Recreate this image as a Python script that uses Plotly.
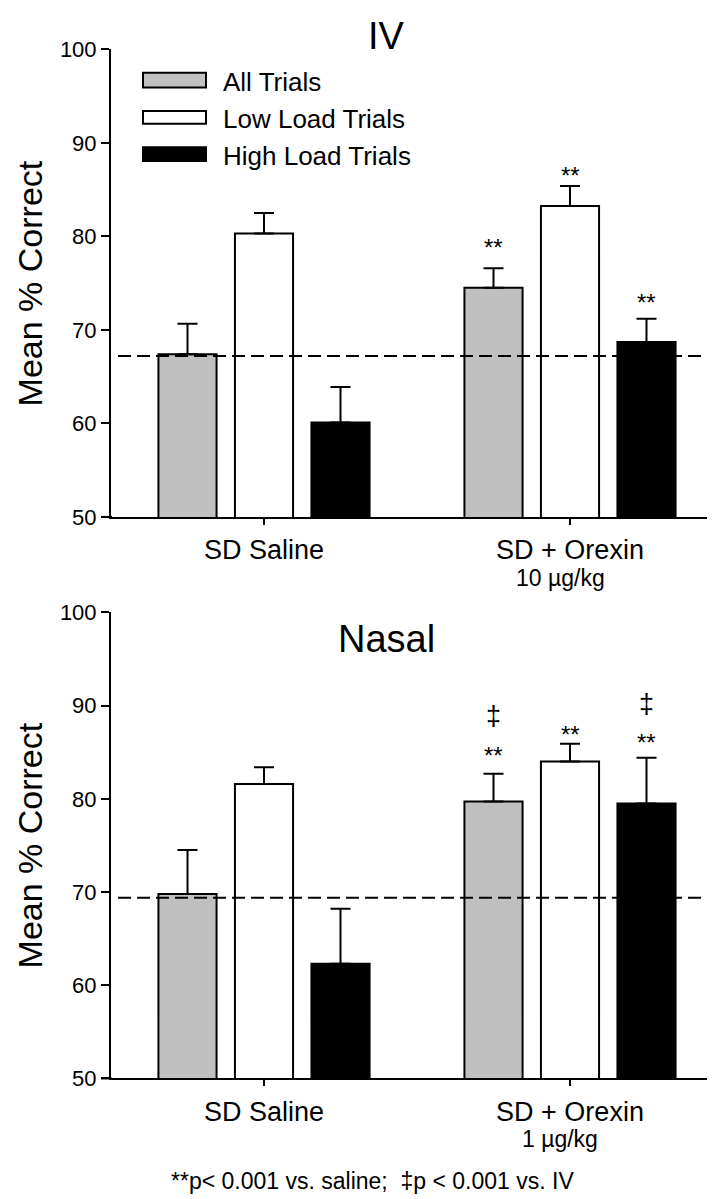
import plotly.graph_objects as go

# ---------------- data ----------------
groups = ["SD Saline", "SD + Orexin"]
iv_doses = ["", "10 µg/kg"]
nasal_doses = ["", "1 µg/kg"]
series = ["All Trials", "Low Load Trials", "High Load Trials"]

iv_all = [67.4, 74.5]
iv_all_err = [3.25, 2.1]
iv_low = [80.3, 83.25]
iv_low_err = [2.2, 2.15]
iv_high = [60.1, 68.7]
iv_high_err = [3.8, 2.5]
iv_baseline = 67.2

nasal_all = [69.8, 79.7]
nasal_all_err = [4.7, 3.0]
nasal_low = [81.6, 84.0]
nasal_low_err = [1.8, 1.9]
nasal_high = [62.3, 79.5]
nasal_high_err = [5.9, 4.9]
nasal_baseline = 69.4

iv_sig = [["", "**"], ["", "**"], ["", "**"]]
nasal_sig = [["", "**"], ["", "**"], ["", "**"]]
nasal_vs_iv = [["", "‡"], ["", ""], ["", "‡"]]

footnote = "**p< 0.001 vs. saline;  ‡p < 0.001 vs. IV"

# ---------------- styling / layout ----------------
W, H = 715, 1199
L = 103
PW = W - L
FONT = "Arial, Liberation Sans, Helvetica, sans-serif"
colors = ["#c0c0c0", "#ffffff", "#000000"]
BARGAP = 0.25
GROUPGAP = 0.24

# vertical placement (axis units) of the significance symbols, per series/group
iv_sig_pos = [[None, 79.4], [None, 87.1], [None, 73.5]]
nasal_sig_pos = [[None, 85.2], [None, 87.4], [None, 86.6]]
nasal_dag_pos = [[None, 88.9], [None, None], [None, 90.2]]


def px_x(px):
    return (px - L) / PW


def px_y(py):
    return 1 - py / H


fig = go.Figure()

panels = [
    dict(xa="x", ya="y", vals=[iv_all, iv_low, iv_high],
         errs=[iv_all_err, iv_low_err, iv_high_err], base=iv_baseline,
         sig=iv_sig, sigpos=iv_sig_pos, sig2=None, sig2pos=None, doses=iv_doses),
    dict(xa="x2", ya="y2", vals=[nasal_all, nasal_low, nasal_high],
         errs=[nasal_all_err, nasal_low_err, nasal_high_err], base=nasal_baseline,
         sig=nasal_sig, sigpos=nasal_sig_pos, sig2=nasal_vs_iv, sig2pos=nasal_dag_pos,
         doses=nasal_doses),
]

slot_px = PW / len(groups) * (1 - BARGAP) / len(series)
annotations = []
shapes = []

for p in panels:
    for i, name in enumerate(series):
        fig.add_trace(go.Bar(
            x=groups, y=p["vals"][i], name=name, xaxis=p["xa"], yaxis=p["ya"],
            marker=dict(color=colors[i], line=dict(color="black", width=2)),
            error_y=dict(type="data", array=p["errs"][i], arrayminus=[0] * len(groups),
                         symmetric=False, color="black", thickness=2, width=10),
            showlegend=False,
        ))
        for j, g in enumerate(groups):
            if p["sig"][i][j]:
                annotations.append(dict(
                    x=g, y=p["sigpos"][i][j], xref=p["xa"], yref=p["ya"],
                    text=p["sig"][i][j], showarrow=False, yanchor="middle",
                    xanchor="center", xshift=(i - 1) * slot_px, yshift=-5,
                    font=dict(size=24, color="black", family=FONT)))
            if p["sig2"] and p["sig2"][i][j]:
                annotations.append(dict(
                    x=g, y=p["sig2pos"][i][j], xref=p["xa"], yref=p["ya"],
                    text=p["sig2"][i][j], showarrow=False, yanchor="middle",
                    xanchor="center", xshift=(i - 1) * slot_px,
                    font=dict(size=27, color="black", family=FONT)))
    for j, g in enumerate(groups):
        if p["doses"][j]:
            annotations.append(dict(
                x=g, y=50, xref=p["xa"], yref=p["ya"], text=p["doses"][j],
                showarrow=False, yanchor="top", xanchor="center", xshift=-10, yshift=-46,
                font=dict(size=23, color="black", family=FONT)))
    shapes.append(dict(
        type="line", xref=p["xa"], yref=p["ya"], x0=-0.477, x1=1.46,
        y0=p["base"], y1=p["base"], layer="above",
        line=dict(color="black", width=2, dash="13px,6px")))

axis_common = dict(showline=True, linewidth=2, linecolor="black", mirror=False,
                   ticks="outside", tickwidth=2, tickcolor="black",
                   showgrid=False, zeroline=False)

top_dom = [px_y(507.5), px_y(30)]
bot_dom = [px_y(1081), px_y(605)]

fig.update_layout(
    width=W, height=H,
    margin=dict(l=L, r=0, t=0, b=0),
    paper_bgcolor="white", plot_bgcolor="white",
    barmode="group", bargap=BARGAP, bargroupgap=GROUPGAP,
    font=dict(family=FONT, color="black"),
    xaxis=dict(domain=[0, 1], anchor="y", type="category", range=[-0.5, 1.5],
               ticklen=6, tickfont=dict(size=27), ticklabelstandoff=2, **axis_common),
    yaxis=dict(domain=top_dom, anchor="x", range=[50, 100], dtick=10, tick0=50,
               ticklen=8, tickfont=dict(size=22), **axis_common),
    xaxis2=dict(domain=[0, 1], anchor="y2", type="category", range=[-0.5, 1.5],
                ticklen=6, tickfont=dict(size=27), ticklabelstandoff=2, **axis_common),
    yaxis2=dict(domain=bot_dom, anchor="x2", range=[50, 100], dtick=10, tick0=50,
                ticklen=8, tickfont=dict(size=22), **axis_common),
)

# x-axis line extension to the left of the y axis (as in the original)
for py in (507.5, 1081):
    shapes.append(dict(type="line", xref="paper", yref="paper",
                       x0=px_x(93), x1=px_x(104), y0=px_y(py), y1=px_y(py),
                       line=dict(color="black", width=2)))

# panel titles
annotations.append(dict(text="IV", x=px_x(378), y=px_y(16), xref="paper", yref="paper",
                        showarrow=False, xanchor="center", yanchor="middle",
                        font=dict(size=38, family=FONT)))
annotations.append(dict(text="Nasal", x=px_x(378), y=px_y(632), xref="paper", yref="paper",
                        showarrow=False, xanchor="center", yanchor="middle",
                        font=dict(size=38, family=FONT)))

# y-axis titles
for cy in (269, 843):
    annotations.append(dict(text="Mean % Correct", x=px_x(22), y=px_y(cy),
                            xref="paper", yref="paper", showarrow=False, textangle=-90,
                            xanchor="center", yanchor="middle",
                            font=dict(size=34, family=FONT)))

# legend (drawn manually)
leg_y = [(54, 69), (93, 106), (130, 144)]
for i, name in enumerate(series):
    y0, y1 = leg_y[i]
    shapes.append(dict(type="rect", xref="paper", yref="paper",
                       x0=px_x(135), x1=px_x(198), y0=px_y(y1), y1=px_y(y0),
                       fillcolor=colors[i], line=dict(color="black", width=2)))
    annotations.append(dict(text=name, x=px_x(213), y=px_y((y0 + y1) / 2 + 2),
                            xref="paper", yref="paper", showarrow=False,
                            xanchor="left", yanchor="middle",
                            font=dict(size=26, family=FONT)))

# footnote
annotations.append(dict(text=footnote, x=px_x(364), y=px_y(1186), xref="paper", yref="paper",
                        showarrow=False, xanchor="center", yanchor="middle",
                        font=dict(size=23, family=FONT)))

fig.update_layout(annotations=annotations, shapes=shapes)
fig.write_html("out.html")
